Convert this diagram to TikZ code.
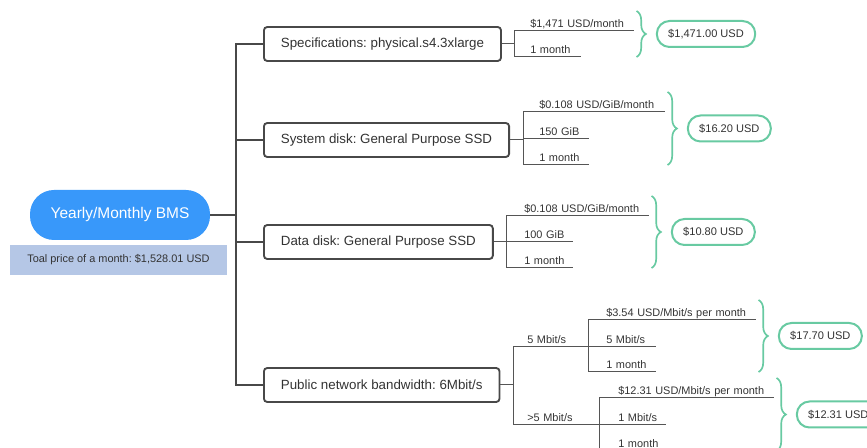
\documentclass[tikz,border=0pt]{standalone}
\usepackage{fontspec}
\setmainfont{Liberation Sans}
\usepackage{tikz}
\usetikzlibrary{positioning,calc,decorations.pathreplacing}
\frenchspacing
\definecolor{bmsblue}{RGB}{56,152,250}
\definecolor{bmssum}{RGB}{181,199,230}
\definecolor{bmsedge}{RGB}{72,72,72}
\definecolor{bmsink}{RGB}{51,51,51}
\definecolor{bmstwig}{RGB}{85,85,85}
\definecolor{bmsmint}{RGB}{104,202,162}
\tikzset{
  root/.style={
    fill=bmsblue, text=white, rounded corners=18pt,
    minimum width=135pt, minimum height=37.5pt,
    font=\fontsize{11.6}{14}\selectfont
  },
  sumbox/.style={
    fill=bmssum, text=bmsink, minimum width=162.75pt, minimum height=22.5pt,
    font=\fontsize{8.2}{10}\selectfont
  },
  item/.style={
    draw=bmsedge, line width=1.4pt, fill=white, rounded corners=2.5pt,
    text=bmsink, inner xsep=12.75pt, minimum height=25.5pt, anchor=west,
    font=\fontsize{10}{12}\selectfont
  },
  leaf/.style={
    anchor=south west, inner xsep=0pt, inner ysep=2.6pt,
    text height=6.5pt, text depth=0pt, align=left, text=bmsink,
    font=\fontsize{8.2}{10}\selectfont
  },
  cost/.style={
    draw=bmsmint, line width=1.5pt, rounded corners=9.5pt, fill=white,
    inner xsep=8.5pt, minimum height=19.5pt, text=bmsink,
    font=\fontsize{8.3}{10}\selectfont
  },
  trunk/.style={draw=bmsedge, line width=2.2pt},
  twig/.style={draw=bmstwig, line width=0.75pt},
  brace/.style={draw=bmsmint, line width=1.25pt, decorate, decoration={brace, amplitude=7pt}}
}

\begin{document}
\begin{tikzpicture}[x=0.75pt, y=-0.75pt]
  \useasboundingbox (0,0) rectangle (867,448);
  \clip (0,0) rectangle (867,448);
  \node[root] (bms) at (120,215) {Yearly/Monthly BMS};
  \node[sumbox] (total) at (118.5,260) {Toal price of a month: \$1,528.01 USD};
  \coordinate (hub) at (236,215);
  \node[item] (spec) at (263,44) {Specifications: physical.s4.3xlarge};
  \node[item] (sysd) at (263,140) {System disk: General Purpose SSD};
  \node[item] (datd) at (263,242) {Data disk: General Purpose SSD};
  \node[item] (bw) at (263,385) {Public network bandwidth: 6Mbit/s};
  \draw[trunk] (bms.east) -- (hub);
  \foreach \b in {spec,sysd,datd,bw} \draw[trunk] (hub) |- (\b.west);

  \coordinate (specfork) at ($(spec.east)+(13,0)$);
  \coordinate (sysfork) at ($(sysd.east)+(13,0)$);
  \coordinate (datfork) at ($(datd.east)+(13,0)$);
  \coordinate (bwfork) at ($(bw.east)+(13,0)$);

  \node[leaf, text width=77.25pt] (sp1) at (530,31) {\$1,471 USD/month};
  \node[leaf, text width=37.5pt] (sp2) at (530,57) {1 month};
  \node[leaf, text width=93.75pt] (sy1) at (539,112) {\$0.108 USD/GiB/month};
  \node[leaf, text width=36.75pt] (sy2) at (539,139) {150 GiB};
  \node[leaf, text width=36.75pt] (sy3) at (539,165) {1 month};
  \node[leaf, text width=93pt] (dd1) at (524,216) {\$0.108 USD/GiB/month};
  \node[leaf, text width=36pt] (dd2) at (524,242) {100 GiB};
  \node[leaf, text width=36pt] (dd3) at (524,268) {1 month};
  \node[leaf, text width=45.75pt] (bw1) at (527,347) {5 Mbit/s};
  \node[leaf, text width=54pt] (bw2) at (527,425) {>5 Mbit/s};
  \coordinate (sub1fork) at (bw1.south east);
  \coordinate (sub2fork) at (bw2.south east);
  \node[leaf, text width=111.75pt] (r1) at (606,320) {\$3.54 USD/Mbit/s per month};
  \node[leaf, text width=36.75pt] (r2) at (606,347) {5 Mbit/s};
  \node[leaf, text width=36.75pt] (r3) at (606,372) {1 month};
  \node[leaf, text width=116.25pt] (s1) at (618,398) {\$12.31 USD/Mbit/s per month};
  \node[leaf, text width=35.25pt] (s2) at (618,425) {1 Mbit/s};
  \node[leaf, text width=35.25pt] (s3) at (618,451) {1 month};

  \foreach \b/\f in {spec/specfork,sysd/sysfork,datd/datfork,bw/bwfork} \draw[twig] (\b.east) -- (\f);
  \foreach \f/\l in {specfork/sp1,specfork/sp2,sysfork/sy1,sysfork/sy2,sysfork/sy3,
    datfork/dd1,datfork/dd2,datfork/dd3,bwfork/bw1,bwfork/bw2,
    sub1fork/r1,sub1fork/r2,sub1fork/r3,sub2fork/s1,sub2fork/s2,sub2fork/s3}
    \draw[twig] (\f) |- (\l.south east);

  \foreach \t/\b/\m in {sp1/sp2/spmid,sy1/sy3/symid,dd1/dd3/ddmid,r1/r3/rmid,s1/s3/smid} {
    \coordinate (\m0) at ($(\t.south east)+(3,-20)$);
    \coordinate (\m1) at (\m0 |- \b.south);
    \draw[brace] (\m0) -- (\m1);
    \coordinate (\m) at ($(\m0)!0.5!(\m1)$);
  }
  \node[cost, right=14.5pt of spmid] (spcost) {\$1,471.00 USD};
  \node[cost, right=14.5pt of symid] (sycost) {\$16.20 USD};
  \node[cost, right=14.5pt of ddmid] (ddcost) {\$10.80 USD};
  \node[cost, right=14.5pt of rmid] (rcost) {\$17.70 USD};
  \node[cost, right=14.5pt of smid] (scost) {\$12.31 USD};
\end{tikzpicture}
\end{document}
